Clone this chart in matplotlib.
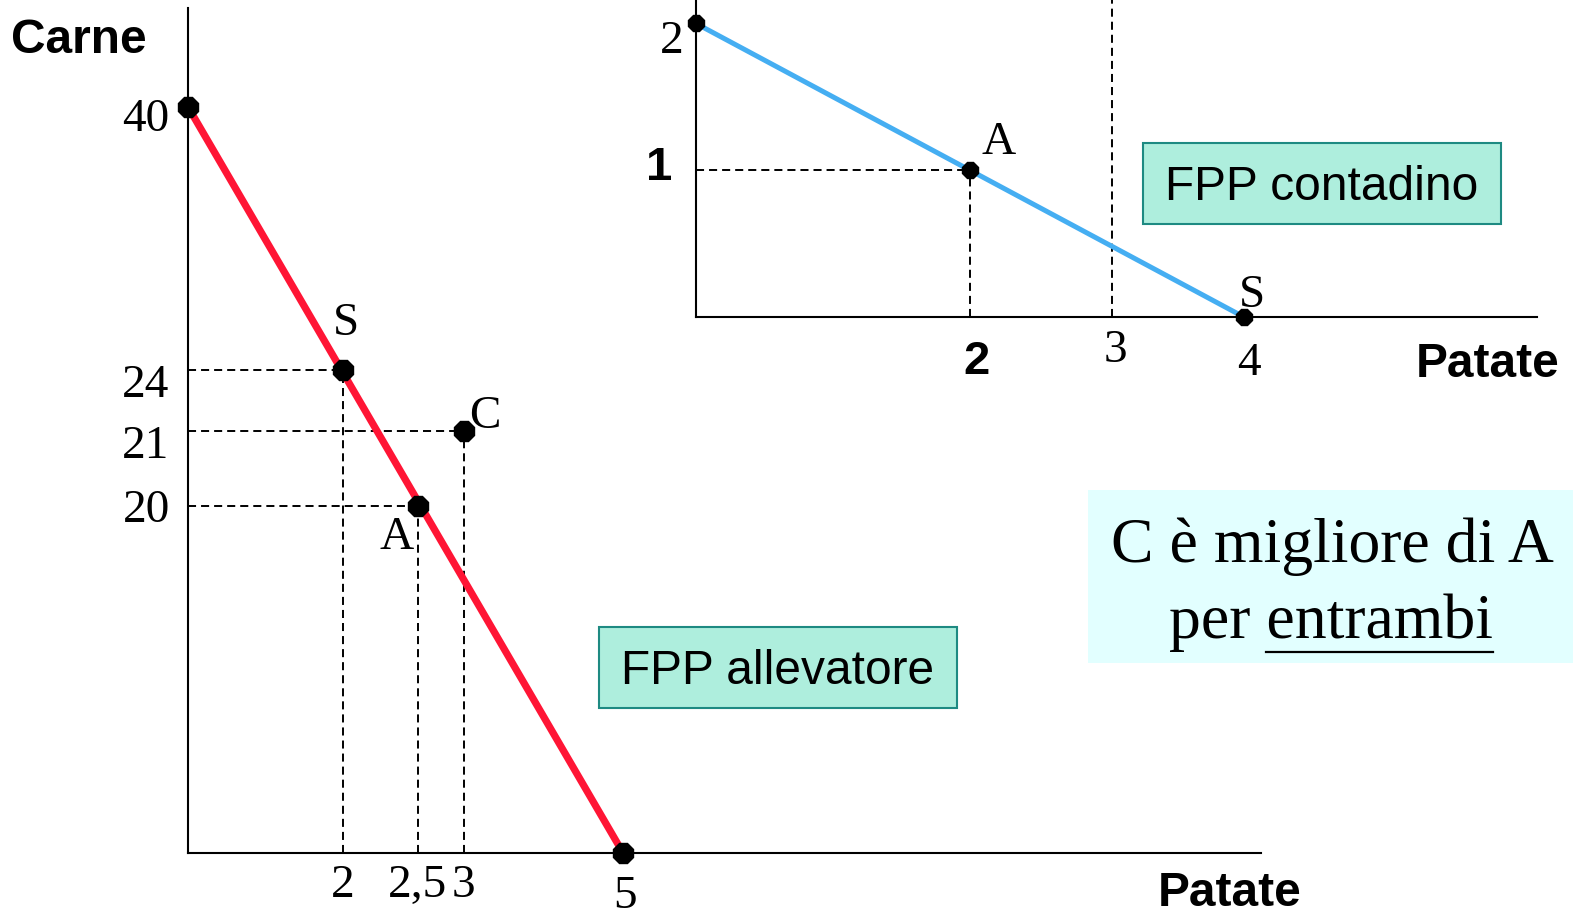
import matplotlib
matplotlib.use("Agg")
import matplotlib.pyplot as plt
import matplotlib.transforms as mtransforms
import numpy as np
from matplotlib.patches import Rectangle
from matplotlib.lines import Line2D

plt.rcParams["lines.scale_dashes"] = False

SERIF = "Liberation Serif"
SANS = "Liberation Sans"

# --- data -----------------------------------------------------------------
# allevatore (main chart): patate vs carne
alle_fpp_x = [0, 5]
alle_fpp_y = [40, 0]
alle_pts_x = [0, 2, 2.5, 3, 5]
alle_pts_y = [40, 24, 20, 21, 0]
alle_guides = {"S": (2, 24), "A": (2.5, 20), "C": (3, 21)}
alle_xticks = [2, 2.5, 3, 5]
alle_xtick_labels = ["2", "2,5", "3", "5"]
alle_yticks = [20, 21, 24, 40]
alle_ytick_labels = ["20", "21", "24", "40"]

# contadino (inset chart)
cont_fpp_x = [0, 4]
cont_fpp_y = [2, 0]
cont_pts_x = [0, 2, 4]
cont_pts_y = [2, 1, 0]
cont_guide_a = (2, 1)
cont_vline_x = 3
cont_xticks = [2, 3, 4]
cont_xtick_labels = ["2", "3", "4"]
cont_yticks = [1, 2]
cont_ytick_labels = ["1", "2"]

# the original sketch is not drawn to scale: piecewise-linear axis scales
alle_x_knots = [-100, 0, 2, 2.5, 3, 5, 100]
alle_x_drawn = [-100, 0, 1.78, 2.64, 3.17, 5, 100]
alle_y_knots = [-100, 0, 20, 21, 24, 40, 100]
alle_y_drawn = [-100, 0, 18.6, 22.6, 25.9, 40, 100]
cont_x_knots = [-100, 0, 2, 3, 4, 100]
cont_x_drawn = [-100, 0, 2, 3.04, 4, 100]

W, H = 1578, 917
RED = "#FF1535"
BLUE = "#45AEF2"
MINT = "#AEEEDD"
TEAL = "#1E8A82"
CYAN = "#E2FFFF"
dash = (0, (5.8, 3.6))


def sketch_scale(knots, drawn):
    fwd = lambda v: np.interp(v, knots, drawn)
    inv = lambda v: np.interp(v, drawn, knots)
    return fwd, inv


def frac(x, y):
    return x / W, 1 - y / H


def shift(label, dy_px, dx_px=0):
    off = mtransforms.ScaledTranslation(dx_px / 100, -dy_px / 100,
                                        fig.dpi_scale_trans)
    label.set_transform(label.get_transform() + off)


fig = plt.figure(figsize=(W / 100, H / 100), dpi=100)

# --- main chart -----------------------------------------------------------
ax = fig.add_axes([188 / W, 1 - 853 / H, (1261 - 188) / W, (853 - 8) / H])
ax.set_xscale("function", functions=sketch_scale(alle_x_knots, alle_x_drawn))
ax.set_yscale("function", functions=sketch_scale(alle_y_knots, alle_y_drawn))
ax.set_xlim(0, 12.33)
ax.set_ylim(0, 45.3)
for s in ["top", "right"]:
    ax.spines[s].set_visible(False)
for s in ["left", "bottom"]:
    ax.spines[s].set_linewidth(1.5)

for name, (px, py) in alle_guides.items():
    ax.plot([0, px], [py, py], color="black", lw=1.4, ls=dash, zorder=1)
    ax.plot([px, px], [0, py], color="black", lw=1.4, ls=dash, zorder=1)

ax.plot(alle_fpp_x, alle_fpp_y, color=RED, lw=5.2, zorder=2, clip_on=False,
        solid_capstyle="butt")
ax.plot(alle_pts_x, alle_pts_y, ls="none", marker="8", ms=15, color="black",
        zorder=3, clip_on=False)

lbl = dict(fontsize=34, family=SERIF, ha="center", va="baseline",
           textcoords="offset points")
ax.annotate("S", alle_guides["S"], xytext=(2, 25), **lbl)
ax.annotate("C", alle_guides["C"], xytext=(15, 2.5), **lbl)
ax.annotate("A", alle_guides["A"], xytext=(-15, -31), **lbl)

ax.set_xticks(alle_xticks, alle_xtick_labels)
ax.set_yticks(alle_yticks, alle_ytick_labels)
ax.tick_params(axis="both", length=0, labelsize=34)
ax.tick_params(axis="x", pad=8)
ax.tick_params(axis="y", pad=11)
for t in ax.get_xticklabels() + ax.get_yticklabels():
    t.set_family(SERIF)
y_shift = {"40": 8, "24": 11, "21": 10, "20": 0}
for t in ax.get_yticklabels():
    shift(t, y_shift[t.get_text()], -3)
for t in ax.get_xticklabels():
    if t.get_text() == "5":
        shift(t, 11, 2)

# --- inset chart ----------------------------------------------------------
ax2 = fig.add_axes([696 / W, 1 - 317 / H, (1537 - 696) / W, 317 / H])
ax2.set_facecolor("none")
ax2.set_xscale("function", functions=sketch_scale(cont_x_knots, cont_x_drawn))
ax2.set_xlim(0, 6.14)
ax2.set_ylim(0, 2.16)
for s in ["top", "right"]:
    ax2.spines[s].set_visible(False)
for s in ["left", "bottom"]:
    ax2.spines[s].set_linewidth(1.5)

ax2.plot([0, cont_guide_a[0]], [cont_guide_a[1]] * 2, color="black", lw=1.4,
         ls=dash, zorder=1)
ax2.plot([cont_guide_a[0]] * 2, [0, cont_guide_a[1]], color="black", lw=1.4,
         ls=dash, zorder=1)
ax2.plot([cont_vline_x] * 2, [0, 2.16], color="black", lw=1.4, ls=dash,
         zorder=1, clip_on=False)

ax2.plot(cont_fpp_x, cont_fpp_y, color=BLUE, lw=3.6, zorder=2, clip_on=False)
ax2.plot(cont_pts_x, cont_pts_y, ls="none", marker="8", ms=12, color="black",
         zorder=3, clip_on=False)

ax2.annotate("A", cont_guide_a, xytext=(21, 11.5), **lbl)
ax2.annotate("S", (cont_fpp_x[1], 0), xytext=(6, 7), **lbl)

ax2.set_xticks(cont_xticks, cont_xtick_labels)
ax2.set_yticks(cont_yticks, cont_ytick_labels)
ax2.tick_params(axis="both", length=0, labelsize=34)
ax2.tick_params(axis="x", pad=15)
ax2.tick_params(axis="y", pad=9)
for t in ax2.get_yticklabels():
    if t.get_text() == "1":
        t.set_family(SANS)
        t.set_fontweight("bold")
        shift(t, -7, -11)
    else:
        t.set_family(SERIF)
        shift(t, 13)
for t in ax2.get_xticklabels():
    if t.get_text() == "2":
        t.set_family(SANS)
        t.set_fontweight("bold")
        shift(t, 2, 7)
    else:
        t.set_family(SERIF)
        if t.get_text() == "3":
            shift(t, -8, 3)
        else:
            shift(t, 5, 5)

# --- axis titles ----------------------------------------------------------
bold = dict(fontsize=34.5, family=SANS, fontweight="bold", ha="center",
            va="baseline")
fig.text(*frac(79, 53), "Carne", **bold)
fig.text(*frac(1230, 906), "Patate", **bold)
fig.text(*frac(1488, 377), "Patate", **bold)


# --- boxes ----------------------------------------------------------------
def box(x0, y0, x1, y1, face, edge=None):
    fx0, fy1 = frac(x0, y1)
    fx1, fy0 = frac(x1, y0)
    fig.patches.append(Rectangle((fx0, fy1), fx1 - fx0, fy0 - fy1,
                                 transform=fig.transFigure, facecolor=face,
                                 edgecolor=edge if edge else "none",
                                 lw=1.5, zorder=0))


plain = dict(fontsize=34.5, family=SANS, ha="center", va="baseline")
box(599, 627, 957, 708, MINT, TEAL)
fig.text(*frac(778, 684), "FPP allevatore", **plain)
box(1143, 143, 1501, 224, MINT, TEAL)
fig.text(*frac(1322, 200), "FPP contadino", **plain)

box(1088, 490, 1573, 663, CYAN)
big = dict(fontsize=45.9, family=SERIF, ha="center", va="baseline")
fig.text(*frac(1332, 562), "C è migliore di A", **big)
line2 = fig.text(*frac(1331, 638), "per entrambi", **big)

# underline "entrambi"
renderer = fig.canvas.get_renderer()
full = line2.get_window_extent(renderer)
probe = fig.text(0, 0, "entrambi", **big)
w_word = probe.get_window_extent(renderer).width
probe.remove()
ul_y = 1 - 652 / H
fig.lines.append(Line2D([(full.x1 - w_word) / W, full.x1 / W], [ul_y, ul_y],
                        transform=fig.transFigure, color="black", lw=1.6))

fig.savefig("out.png", dpi=100)
